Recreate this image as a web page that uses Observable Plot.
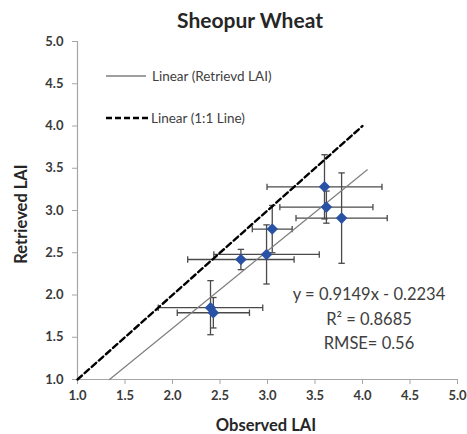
<!DOCTYPE html>
<html>
<head>
<meta charset="utf-8">
<script src="https://cdn.jsdelivr.net/npm/d3@7"></script>
<script src="https://cdn.jsdelivr.net/npm/@observablehq/plot@0.6"></script>
<style>
  html, body { margin: 0; padding: 0; background: #fff; }
  #wrap { position: relative; width: 467px; height: 434px; font-family: Lato, "Open Sans", sans-serif; color: #404040; }
  #wrap svg { position: absolute; left: 0; top: 0; }
  .ov { position: absolute; white-space: nowrap; }
  #title { left: 0; width: 500px; top: 7px; text-align: center; font-weight: bold; font-size: 21px; color: #262626; }
  #ylab { left: 21px; top: 214px; transform: translate(-50%, -50%) rotate(-90deg); font-weight: bold; font-size: 16.5px; color: #262626; }
  #xlab { left: 266px; top: 425px; transform: translate(-50%, -50%); font-weight: bold; font-size: 16.5px; color: #262626; }
  .leg { font-size: 13.5px; transform: translateY(-50%); }
  .eq { font-size: 16.5px; transform: translate(-50%, -80%); }
</style>
</head>
<body>
<div id="wrap"></div>
<script>
// Observed LAI (x), retrieved LAI (y) and their error half-widths
const obsLAI  = [2.40, 2.43, 2.72, 2.99, 3.05, 3.60, 3.62, 3.78];
const retLAI  = [1.85, 1.79, 2.42, 2.48, 2.78, 3.28, 3.04, 2.91];
const obsErr  = [0.55, 0.38, 0.56, 0.555, 0.21, 0.605, 0.49, 0.48];
const retErr  = [0.32, 0.18, 0.12, 0.35, 0.28, 0.38, 0.19, 0.535];
const tickValues = [1.0, 1.5, 2.0, 2.5, 3.0, 3.5, 4.0, 4.5, 5.0];
// trend lines
const oneToOneX = [1.0, 4.0];
const slope = 0.9149, intercept = -0.2234;
const fitX = [1.337, 4.05];
const legendLabels = ["Linear (Retrievd LAI)", "Linear (1:1 Line)"];
const statLabels = ["y = 0.9149x - 0.2234", "R² = 0.8685", "RMSE= 0.56"];

const pts = obsLAI.map((x, i) => ({x, y: retLAI[i], xe: obsErr[i], ye: retErr[i]}));
const oneToOne = oneToOneX.map(x => ({x, y: x}));
const fit = fitX.map(x => ({x, y: slope * x + intercept}));

const vCap = {draw(ctx, size) { const r = Math.sqrt(size / Math.PI); ctx.moveTo(0, -r); ctx.lineTo(0, r); }};
const hCap = {draw(ctx, size) { const r = Math.sqrt(size / Math.PI); ctx.moveTo(-r, 0); ctx.lineTo(r, 0); }};

const axisCol = "#a6a6a6", barCol = "#4a4a4a";
const fmt = d3.format(".1f");

const chart = Plot.plot({
  width: 467, height: 434,
  marginLeft: 77, marginRight: 10, marginTop: 41, marginBottom: 55,
  x: {domain: [1, 5]},
  y: {domain: [1, 5]},
  style: {fontFamily: "Lato, 'Open Sans', sans-serif", background: "transparent"},
  marks: [
    Plot.ruleY([1], {stroke: axisCol, strokeWidth: 1.2}),
    Plot.ruleX([1], {stroke: axisCol, strokeWidth: 1.2}),
    Plot.axisX({ticks: tickValues, tickFormat: fmt, tickSize: 5, tickPadding: 6, stroke: axisCol, fill: "#3a3a3a", fontWeight: "bold", fontSize: 13, letterSpacing: "0.6px", label: null}),
    Plot.axisY({ticks: tickValues, tickFormat: fmt, tickSize: 5, tickPadding: 9, stroke: axisCol, fill: "#3a3a3a", fontWeight: "bold", fontSize: 13, letterSpacing: "0.6px", label: null}),
    Plot.link(pts, {x1: d => d.x - d.xe, x2: d => d.x + d.xe, y1: "y", y2: "y", stroke: barCol, strokeWidth: 1.3}),
    Plot.link(pts, {x1: "x", x2: "x", y1: d => d.y - d.ye, y2: d => d.y + d.ye, stroke: barCol, strokeWidth: 1.3}),
    Plot.dot(pts.flatMap(d => [{x: d.x - d.xe, y: d.y}, {x: d.x + d.xe, y: d.y}]), {x: "x", y: "y", symbol: vCap, r: 3.2, stroke: barCol, strokeWidth: 1.3}),
    Plot.dot(pts.flatMap(d => [{x: d.x, y: d.y - d.ye}, {x: d.x, y: d.y + d.ye}]), {x: "x", y: "y", symbol: hCap, r: 3.2, stroke: barCol, strokeWidth: 1.3}),
    Plot.line(fit, {x: "x", y: "y", stroke: "#7f7f7f", strokeWidth: 1.2}),
    Plot.line(oneToOne, {x: "x", y: "y", stroke: "#000", strokeWidth: 2.4, strokeDasharray: "6,3.5"}),
    Plot.dot(pts, {x: "x", y: "y", symbol: "diamond2", r: 5.2, fill: "#2a52a4", stroke: "none"})
  ]
});

const wrap = document.getElementById("wrap");
wrap.appendChild(chart);

function ov(id, cls, text, left, top) {
  const d = document.createElement("div");
  if (id) d.id = id;
  d.className = "ov " + (cls || "");
  d.textContent = text;
  if (left != null) d.style.left = left + "px";
  if (top != null) d.style.top = top + "px";
  wrap.appendChild(d);
  return d;
}
ov("title", "", "Sheopur Wheat");
ov("ylab", "", "Retrieved LAI");
ov("xlab", "", "Observed LAI");

// legend
const legSvg = document.createElementNS("http://www.w3.org/2000/svg", "svg");
legSvg.setAttribute("width", 467); legSvg.setAttribute("height", 434);
legSvg.style.pointerEvents = "none";
legSvg.innerHTML =
  '<line x1="106" x2="146" y1="76" y2="76" stroke="#404040" stroke-width="1.2"/>' +
  '<line x1="106" x2="150" y1="118" y2="118" stroke="#000" stroke-width="2.4" stroke-dasharray="6,3"/>';
wrap.appendChild(legSvg);
ov(null, "leg", legendLabels[0], 152, 76);
ov(null, "leg", legendLabels[1], 151, 118);

statLabels.forEach((t, i) => ov(null, "eq", t, 369, 300 + i * 24.5));
</script>
</body>
</html>
